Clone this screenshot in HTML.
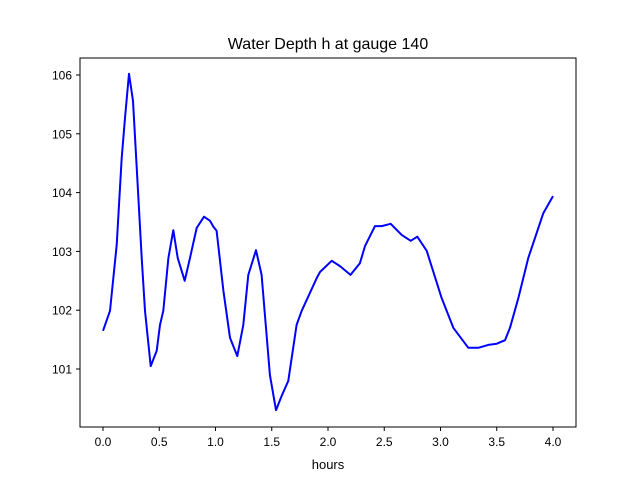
<!DOCTYPE html>
<html><head><meta charset="utf-8"><style>
body{margin:0;background:#fff;}
svg{display:block;font-family:"Liberation Sans","DejaVu Sans",sans-serif;}
</style></head><body>
<svg id="chart" width="640" height="480">
<rect width="640" height="480" fill="#fff"/>
<text x="328" y="49" font-size="16" text-anchor="middle">Water Depth h at gauge 140</text>
<text x="328" y="469" font-size="13" text-anchor="middle">hours</text>
<g id="ticks"></g>
<polyline id="line" fill="none" stroke="#0000ff" stroke-width="2" stroke-linejoin="round"/>
<rect x="80" y="58" width="496" height="369" fill="none" stroke="#000" stroke-width="1"/>
</svg>
<script>
const xs=[0,0.062,0.122,0.166,0.196,0.231,0.267,0.311,0.344,0.373,0.424,0.477,0.507,0.536,0.581,0.625,0.664,0.726,0.773,0.833,0.898,0.951,0.981,1.01,1.07,1.129,1.194,1.247,1.292,1.36,1.41,1.484,1.538,1.588,1.647,1.721,1.766,1.9,1.929,2.033,2.107,2.2,2.284,2.329,2.418,2.477,2.557,2.655,2.735,2.794,2.877,3.01,3.114,3.247,3.336,3.425,3.5,3.573,3.618,3.692,3.78,3.914,4.0];
const ys=[101.65,101.99,103.11,104.59,105.27,106.02,105.56,104.03,102.89,101.99,101.05,101.31,101.75,101.99,102.89,103.36,102.89,102.5,102.89,103.4,103.59,103.52,103.42,103.35,102.33,101.53,101.22,101.75,102.6,103.02,102.6,100.9,100.3,100.54,100.8,101.75,101.99,102.55,102.65,102.84,102.75,102.6,102.8,103.09,103.43,103.43,103.47,103.28,103.18,103.25,103.01,102.21,101.7,101.36,101.36,101.41,101.43,101.49,101.7,102.21,102.89,103.65,103.94];
const xTicks=[0,0.5,1,1.5,2,2.5,3,3.5,4];
const xTickLabels=["0.0","0.5","1.0","1.5","2.0","2.5","3.0","3.5","4.0"];
const yTicks=[101,102,103,104,105,106];
const yTickLabels=["101","102","103","104","105","106"];
const X=v=>103+v*112.5;
const Y=v=>75+(106-v)*58.8;
const NS="http://www.w3.org/2000/svg";
const g=document.getElementById('ticks');
function mk(t,a){const e=document.createElementNS(NS,t);for(const k in a)e.setAttribute(k,a[k]);g.appendChild(e);return e;}
xTicks.forEach((v,i)=>{
 const l=mk('line',{x1:X(v),x2:X(v),y1:427,y2:431,stroke:'#000'});
 
 
 const t=mk('text',{x:X(v),y:446,'font-size':12,'text-anchor':'middle'});
 t.textContent=xTickLabels[i];
 
 
});
yTicks.forEach((v,i)=>{
 const l=mk('line',{x1:76,x2:80,y1:Y(v),y2:Y(v),stroke:'#000'});
 
 
 const t=mk('text',{x:72,y:Y(v)+4.5,'font-size':12,'text-anchor':'end'});
 t.textContent=yTickLabels[i];
 
 
});
document.getElementById('line').setAttribute('points',xs.map((v,i)=>X(v).toFixed(1)+','+Y(ys[i]).toFixed(1)).join(' '));
</script>
</body></html>
